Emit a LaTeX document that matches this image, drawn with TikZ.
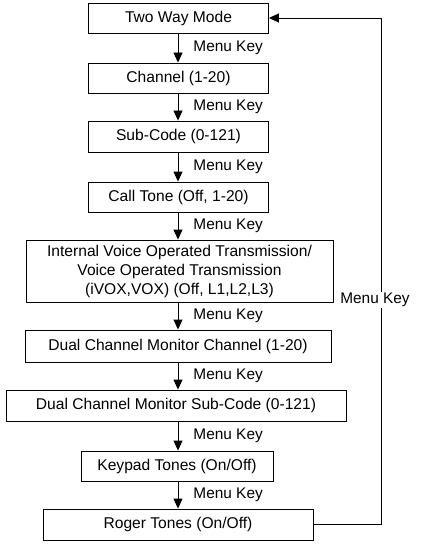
\documentclass[tikz,border=0pt]{standalone}
\usepackage{fontspec}
\setmainfont{Liberation Sans}
\usetikzlibrary{arrows.meta}
\begin{document}
\begin{tikzpicture}[x=1pt,y=-1pt,
  box/.style={draw, line width=0.9pt, inner sep=0pt, align=center, font=\fontsize{15.6}{19}\selectfont},
  flow/.style={line width=0.9pt, -{Triangle[width=9pt,length=10pt]}},
  lab/.style={font=\fontsize{15.4}{18}\selectfont, anchor=west, inner sep=0pt}]
\useasboundingbox (0,0) rectangle (420,548);
\node[box, minimum width=180pt, minimum height=30pt] (b1) at (178.5,18) {Two Way Mode};
\node[box, minimum width=180pt, minimum height=30pt] (b2) at (178.5,78) {Channel (1-20)};
\node[box, minimum width=180pt, minimum height=31pt] (b3) at (178.5,136.5) {Sub-Code (0-121)};
\node[box, minimum width=180pt, minimum height=30pt] (b4) at (178.5,197) {Call Tone (Off, 1-20)};
\node[box, minimum width=307pt, minimum height=62pt] (b5) at (179.5,271) {Internal Voice Operated Transmission/\\Voice Operated Transmission\\(iVOX,VOX) (Off, L1,L2,L3)};
\node[box, minimum width=306pt, minimum height=32pt] (b6) at (178,346) {Dual Channel Monitor Channel (1-20)};
\node[box, minimum width=340pt, minimum height=31pt] (b7) at (176,405.5) {Dual Channel Monitor Sub-Code (0-121)};
\node[box, minimum width=192pt, minimum height=30pt] (b8) at (177,466) {Keypad Tones (On/Off)};
\node[box, minimum width=270pt, minimum height=31pt] (b9) at (178,524.5) {Roger Tones (On/Off)};
\foreach \a/\b in {b1/b2,b2/b3,b3/b4,b4/b5,b5/b6,b6/b7,b7/b8,b8/b9}{
  \draw[flow] (\a.south -| 178,0) -- (\b.north -| 178,0)
    node[lab, midway, xshift=15pt] {Menu Key};
}
\coordinate (c1) at (381,524.5);
\coordinate (c2) at (381,18);
\draw[flow] (b9.east) -- (c1) -- (c2) -- (b1.east);
\node[lab, fill=white, anchor=center, inner sep=1pt] (fk) at (375,300) {Menu Key};
\end{tikzpicture}
\end{document}
